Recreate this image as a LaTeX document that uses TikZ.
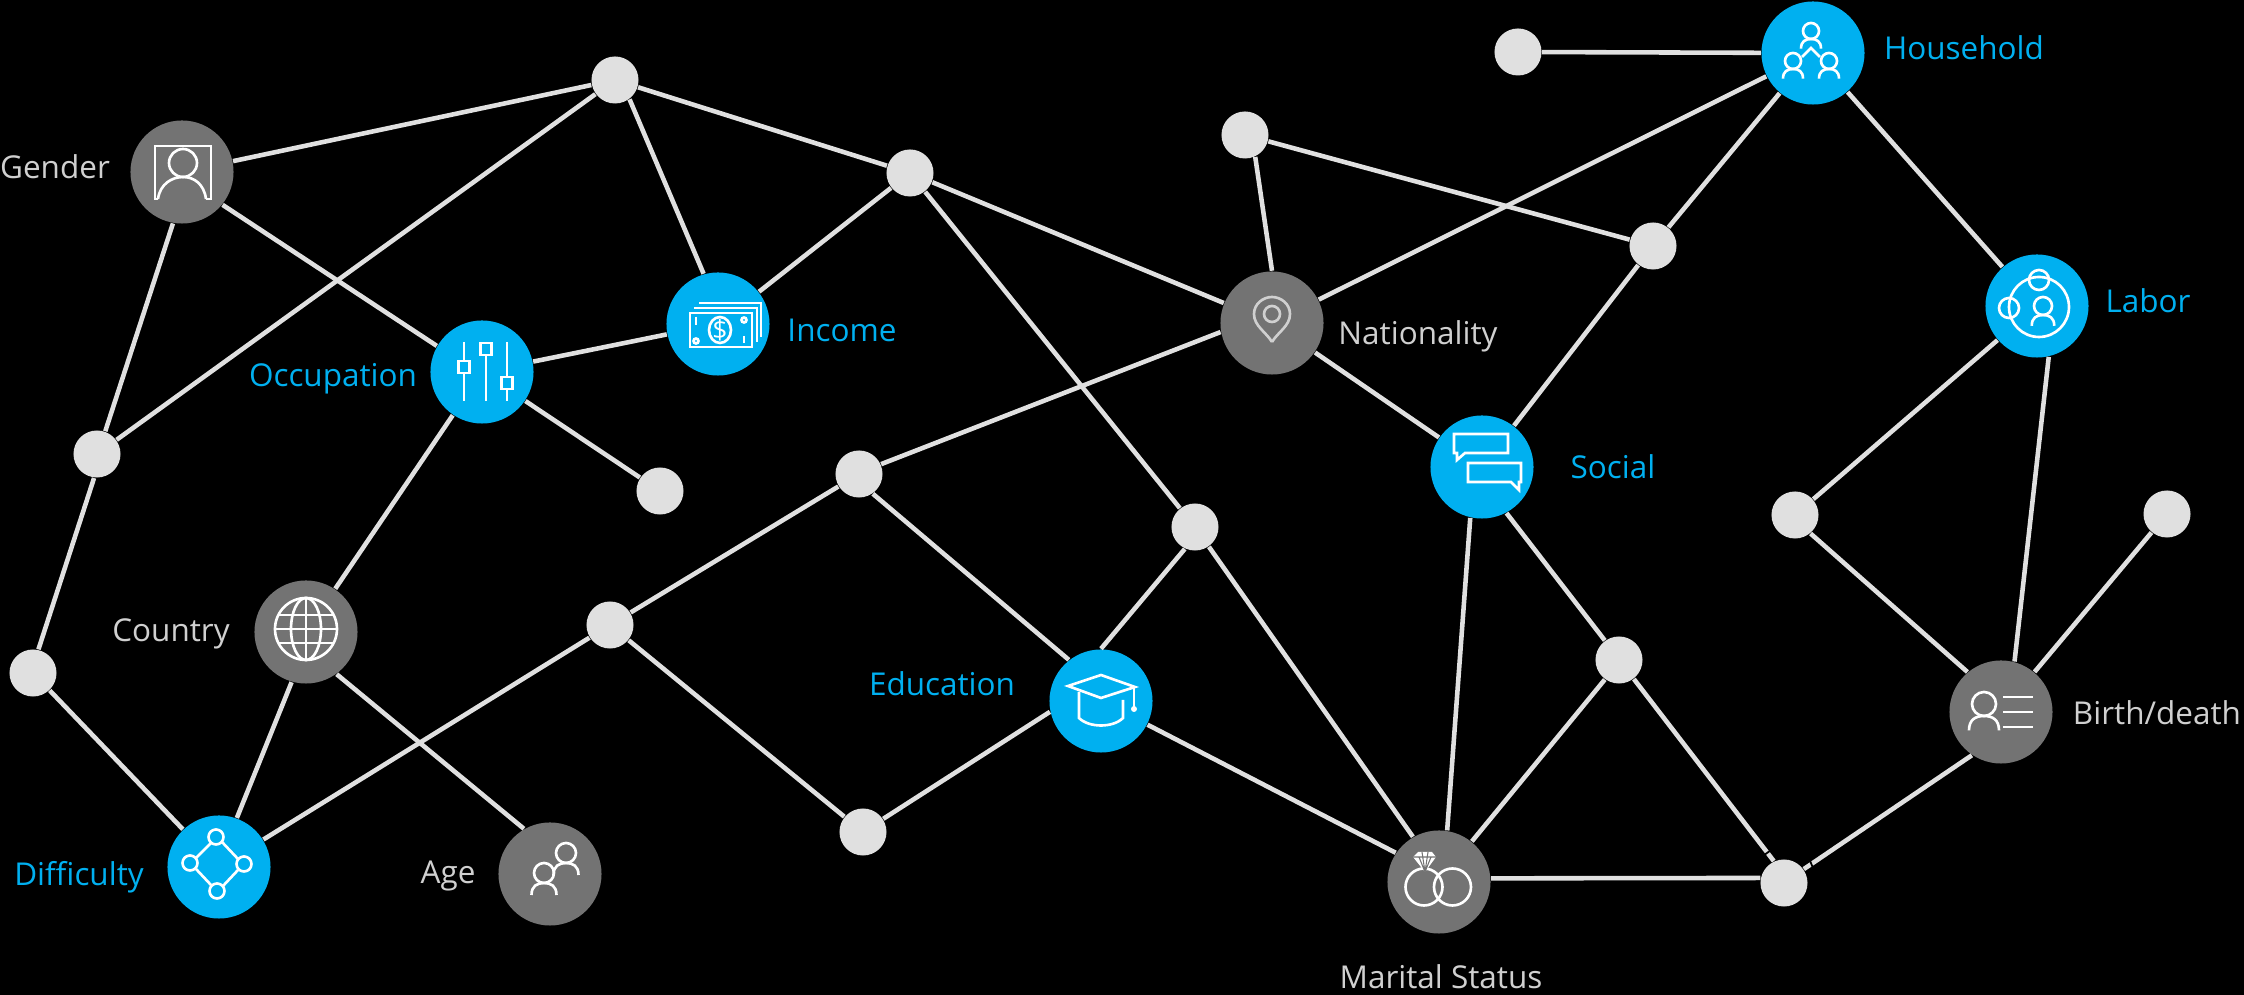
\documentclass[tikz,border=0pt]{standalone}
\usepackage{fontspec}
\setmainfont{Open Sans}

\definecolor{nodeblue}{HTML}{00B0F0}
\definecolor{nodegray}{HTML}{737373}
\definecolor{dotgray}{HTML}{E0E0E0}
\definecolor{textgray}{HTML}{D0D0D0}

% head and shoulders, used by several icons
\newcommand{\personicon}[3]{
    \begin{scope}[shift={(#1,#2)},scale=#3]
        \draw (0,0) circle [radius=1];
        \draw (-1.25,2.2) .. controls (-1.25,1.3) and (-0.7,1) .. (0,1) .. controls (0.7,1) and (1.25,1.3) .. (1.25,2.2);
    \end{scope}
}

\begin{document}
\begin{tikzpicture}[
        x=0.01cm,
        y=-0.01cm,
        factor/.style={
            circle,
            fill=nodeblue,
            minimum size=1.03cm,
            inner sep=0pt
        },
        attribute/.style={
            circle,
            fill=nodegray,
            minimum size=1.03cm,
            inner sep=0pt
        },
        dot/.style={
            circle,
            fill=dotgray,
            minimum size=0.47cm,
            inner sep=0pt
        },
        link/.style={
            draw=dotgray,
            line width=1.3pt
        },
        icon/.style={
            draw=white,
            line width=0.75pt
        },
        blabel/.style={
            text=nodeblue,
            inner sep=0pt,
            font=\fontsize{8.95}{10}\selectfont
        },
        glabel/.style={
            text=textgray,
            inner sep=0pt,
            font=\fontsize{8.95}{10}\selectfont
        }
    ]
        \useasboundingbox (0,0) rectangle (2244,995);
        \fill[black] (0,0) rectangle (2244,995);

        % Factors
        \node[factor] (income) at (718,324) {};
        \node[factor] (occupation) at (482,372) {};
        \node[factor] (difficulty) at (219,867) {};
        \node[factor] (education) at (1101,701) {};
        \node[factor] (social) at (1482,467) {};
        \node[factor] (household) at (1813,53) {};
        \node[factor] (labor) at (2037,306) {};

        % Attributes
        \node[attribute] (gender) at (182,172) {};
        \node[attribute] (country) at (306,632) {};
        \node[attribute] (age) at (550,874) {};
        \node[attribute] (nationality) at (1272,323) {};
        \node[attribute] (marital) at (1439,882) {};
        \node[attribute] (birth) at (2001,712) {};

        % Small dots
        \foreach \name/\x/\y in {d1/615/80,d2/910/173,d3/97/454,d4/660/491,d5/33/673,d6/610/625,d7/859/474,d8/863/832,d9/1195/527,d10/1245/135,d11/1518/52,d12/1653/246,d13/1795/515,d14/2167/514,d15/1619/660,d16/1784/883} {
            \node[dot] (\name) at (\x,\y) {};
        }

        % Connections
        \foreach \a/\b in {gender/d1,gender.-39/occupation.150,gender.-100/d3.70,d1/d3,d1.-53/income.106,d1/d2,d2/income,d2/nationality,d2/d9,occupation/income,occupation/d4,occupation/country,d3.-97/d5.77,d5/difficulty,country.-106/difficulty.70,country.-54/age.120,difficulty/d6,d6/d7,d7.24/nationality.190,d7.-55/education.128,d6/d8,d8.33/education.192,education.90/d9.-115,education.-27/marital.146,d9/marital.120,nationality.90/d10.-65,d10/d12,nationality/household,nationality/social,d11/household,household/d12,d12/social,household/labor,labor/d13,labor.-77/birth.75,d13.-50/birth.130,d14/birth,social.-103/marital.81,social.-62/d15.126,d15.-126/marital.51,d15.-52/d16.115,marital.4/d16.168,d16.35/birth.236} {
            \draw[link] (\a) -- (\b);
        }

        % Small breaks next to the last dot
        \draw[black,line width=0.5pt] (1760,858) -- (1774,848);
        \draw[black,line width=0.5pt] (1808,856) -- (1813,868);

        % Labels
        \node[glabel] (genderlabel) at (55,167) {Gender};
        \node[blabel] (occupationlabel) at (333,379) {Occupation};
        \node[blabel] (incomelabel) at (842,330) {Income};
        \node[glabel] (countrylabel) at (171,634) {Country};
        \node[blabel] (difficultylabel) at (79,877) {Difficulty};
        \node[glabel] (agelabel) at (448,876) {Age};
        \node[blabel] (educationlabel) at (942,684) {Education};
        \node[glabel] (nationalitylabel) at (1418,336) {Nationality};
        \node[blabel] (sociallabel) at (1613,467) {Social};
        \node[glabel] (maritallabel) at (1441,977) {Marital Status};
        \node[blabel] (householdlabel) at (1964,48) {Household};
        \node[blabel] (laborlabel) at (2148,301) {Labor};
        \node[glabel] (birthlabel) at (2157,713) {Birth/death};

        % ============== Icons ==============
        % Gender
        \begin{scope}[shift={(gender)},icon]
            \draw (-24,27) -- (-27,27) -- (-27,-26) -- (29,-26) -- (29,27) -- (24,27);
            \draw (1,-9) ellipse [x radius=14,y radius=14];
            \draw (-24,27) .. controls (-22,12) and (-10,5) .. (1,5) .. controls (12,5) and (22,12) .. (24,27);
        \end{scope}

        % Occupation
        \begin{scope}[shift={(occupation)},icon]
            \foreach \x/\y in {-18/-5,4/-23,25/11} {
                \draw (\x,-30) -- (\x,\y-6);
                \draw (\x,\y+6) -- (\x,29);
                \draw (\x-5.5,\y-6) rectangle (\x+5.5,\y+6);
            }
        \end{scope}

        % Income
        \begin{scope}[shift={(income)},icon]
            \draw (-28,-11) rectangle (34,23);
            \draw (-24,-16) -- (39,-16) -- (39,18);
            \draw (-19,-21) -- (43,-21) -- (43,13);
            \draw (2,6) ellipse [x radius=11,y radius=13];
            \node[text=white,inner sep=0pt,font=\fontsize{7.5}{8}\selectfont] (dollar) at (2,6) {\$};
            \draw (-22,-7) -- (-22,1);
            \draw (26,12) -- (26,19);
            \draw (26,-4) circle [radius=2.5];
            \draw (-22,17) circle [radius=2.5];
        \end{scope}

        % Country
        \begin{scope}[shift={(country)},icon]
            \draw (0,-3) circle [radius=31];
            \draw (0,-3) ellipse [x radius=15,y radius=31];
            \draw (0,-34) -- (0,28);
            \draw (-31,-3) -- (31,-3);
            \draw (-27.7,-17) -- (27.7,-17);
            \draw (-27.7,11) -- (27.7,11);
        \end{scope}

        % Difficulty
        \begin{scope}[shift={(difficulty)},icon]
            \foreach \x/\y in {-3/-30,-29/-4,25/-3,-2/24} {
                \draw (\x,\y) circle [radius=7.5];
            }
            \draw (-8,-24) -- (-23,-9);
            \draw (3,-25) -- (19,-8);
            \draw (-23,2) -- (-8,18);
            \draw (19,3) -- (4,19);
        \end{scope}

        % Age
        \begin{scope}[shift={(age)},icon]
            \personicon{16}{-21}{10}
            \personicon{-6}{-1}{10}
        \end{scope}

        % Education
        \begin{scope}[shift={(education)},icon]
            \draw (-33,-15) -- (0,-26) -- (34,-14) -- (0,-3) -- cycle;
            \draw (-22,-9) -- (-22,17) .. controls (-12,27) and (12,27) .. (22,17) -- (22,-1);
            \draw (33,-14) -- (33,8);
            \fill[white] (33,8) circle [radius=3];
        \end{scope}

        % Nationality
        \begin{scope}[shift={(nationality)},icon,draw=textgray]
            \draw (0,19) .. controls (-6,9) and (-18,3) .. (-18,-9) .. controls (-18,-19) and (-9,-26) .. (0,-26) .. controls (9,-26) and (18,-19) .. (18,-9) .. controls (18,3) and (6,9) .. (0,19);
            \draw (0,-9) circle [radius=8];
        \end{scope}

        % Marital status
        \begin{scope}[shift={(marital)},icon]
            \draw (-15,5) circle [radius=18.5];
            \draw (13.5,5) circle [radius=18.5];
            \fill[white] (-21,-30) -- (-7,-30) -- (-3,-25) -- (-14,-10) -- (-26,-25) -- cycle;
            \draw[nodegray,line width=0.3pt] (-26,-25) -- (-3,-25) (-17,-30) -- (-14,-10) -- (-11,-30) (-20,-25) -- (-14,-10) -- (-8,-25);
        \end{scope}

        % Social
        \begin{scope}[shift={(social)},icon]
            \draw (-28,-33) -- (26,-33) -- (26,-14) -- (-17,-14) -- (-25,-7) -- (-25,-14) -- (-28,-14) -- cycle;
            \draw (-14,-4) -- (39,-4) -- (39,15) -- (37,15) -- (37,23) -- (29,15) -- (-14,15) -- cycle;
        \end{scope}

        % Household
        \begin{scope}[shift={(household)},icon]
            \personicon{-2}{-22}{8}
            \personicon{-20}{8}{8}
            \personicon{16}{8}{8}
            \draw (-11,4) -- (-2,-5) -- (7,4);
        \end{scope}

        % Labor
        \begin{scope}[shift={(labor)},icon]
            \draw (2,1) circle [radius=30];
            \draw (2,-26) circle [radius=10];
            \draw (-28,2) circle [radius=10];
            \personicon{6}{0}{9}
        \end{scope}

        % Birth/death
        \begin{scope}[shift={(birth)},icon]
            \personicon{-17}{-8}{12}
            \foreach \y in {-15,0,15} {
                \draw (2,\y) -- (32,\y);
            }
        \end{scope}
    \end{tikzpicture}
\end{document}
